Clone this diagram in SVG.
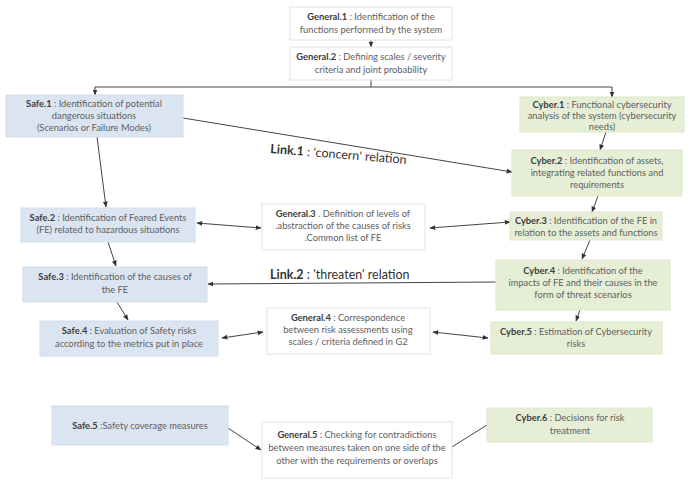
<svg xmlns="http://www.w3.org/2000/svg" width="691" height="482" viewBox="0 0 691 482">
<defs>
<marker id="ah" viewBox="0 0 10 10" refX="9" refY="5" markerWidth="6" markerHeight="6" markerUnits="userSpaceOnUse" orient="auto-start-reverse">
<path d="M0,1 L10,5 L0,9 z" fill="#333"/>
</marker>
<style>
.gen{fill:#ffffff;stroke:#e2e2e2;stroke-width:1}
.safe{fill:#dbe5f1;stroke:#d3deec;stroke-width:1}
.cyb{fill:#e6efd6;stroke:#dde8c9;stroke-width:1}
text{font-family:Lato,"Open Sans","Liberation Sans",sans-serif;font-size:9.3px;fill:#5e5e5e;text-anchor:middle}
.b{font-weight:bold;fill:#3c3c3c}
.lk{font-size:12.5px;text-anchor:start;fill:#333}
.c{fill:none;stroke:#444;stroke-width:1}
</style>
</defs>
<rect width="691" height="482" fill="#ffffff"/>

<g id="connectors">
<path class="c" d="M371,40 V47" marker-end="url(#ah)"/>
<path class="c" d="M371,80 V87 H95 V95" marker-end="url(#ah)"/>
<path class="c" d="M371,87 H612 V97" marker-end="url(#ah)"/>
<path class="c" d="M97,137 L106,207" marker-end="url(#ah)"/>
<path class="c" d="M108,242 L116,266" marker-end="url(#ah)"/>
<path class="c" d="M117,302 L128,320" marker-end="url(#ah)"/>
<path class="c" d="M183,118 L512,172" marker-end="url(#ah)"/>
<path class="c" d="M606,132 L600,150" marker-end="url(#ah)"/>
<path class="c" d="M598,196 L592,212" marker-end="url(#ah)"/>
<path class="c" d="M590,240 L582,259" marker-end="url(#ah)"/>
<path class="c" d="M580,310 L576,321" marker-end="url(#ah)"/>
<path class="c" d="M197,223 L261,228" marker-start="url(#ah)" marker-end="url(#ah)"/>
<path class="c" d="M430,228 L510,222" marker-start="url(#ah)" marker-end="url(#ah)"/>
<path class="c" d="M496,282 L208,284" marker-end="url(#ah)"/>
<path class="c" d="M222,338 L263,332" marker-start="url(#ah)" marker-end="url(#ah)"/>
<path class="c" d="M433,332 L488,338" marker-start="url(#ah)" marker-end="url(#ah)"/>
<path class="c" d="M228,428 L261,450" marker-end="url(#ah)"/>
<path class="c" d="M487,425 L447,450" marker-end="url(#ah)"/>
<text class="lk" transform="translate(270,153) rotate(4.6)"><tspan font-weight="bold">Link.1</tspan> : 'concern' relation</text>
<text class="lk" x="270" y="279"><tspan font-weight="bold">Link.2</tspan> : 'threaten' relation</text>
</g>

<g id="general1">
<rect class="gen" x="290" y="7" width="162" height="33"/>
<text x="371" y="20"><tspan class="b">General.1</tspan> : Identification of the</text>
<text x="371" y="33">functions performed by the system</text>
</g>
<g id="general2">
<rect class="gen" x="290" y="47" width="162" height="33"/>
<text x="371" y="60"><tspan class="b">General.2</tspan> : Defining scales / severity</text>
<text x="371" y="73">criteria and joint probability</text>
</g>
<g id="safe1">
<rect class="safe" x="6" y="95" width="177" height="42"/>
<text x="94" y="107"><tspan class="b">Safe.1</tspan> : Identification of potential</text>
<text x="94" y="119">dangerous situations</text>
<text x="94" y="131">(Scenarios or Failure Modes)</text>
</g>
<g id="cyber1">
<rect class="cyb" x="520" y="97" width="164" height="35"/>
<text x="602" y="108"><tspan class="b">Cyber.1</tspan> : Functional cybersecurity</text>
<text x="602" y="119">analysis of the system (cybersecurity</text>
<text x="602" y="130">needs)</text>
</g>
<g id="cyber2">
<rect class="cyb" x="512" y="150" width="170" height="46"/>
<text x="597" y="164"><tspan class="b">Cyber.2</tspan> : Identification of assets,</text>
<text x="597" y="176">integrating related functions and</text>
<text x="597" y="188">requirements</text>
</g>
<g id="safe2">
<rect class="safe" x="21" y="208" width="174" height="34"/>
<text x="108" y="221"><tspan class="b">Safe.2</tspan> : Identification of Feared Events</text>
<text x="108" y="233">(FE) related to hazardous situations</text>
</g>
<g id="general3">
<rect class="gen" x="262" y="204" width="163" height="46"/>
<text x="343" y="217"><tspan class="b">General.3</tspan> . Definition of levels of</text>
<text x="343" y="229">.abstraction of the causes of risks</text>
<text x="343" y="241">.Common list of FE</text>
</g>
<g id="cyber3">
<rect class="cyb" x="510" y="212" width="152" height="28"/>
<text x="586" y="224"><tspan class="b">Cyber.3</tspan> : Identification of the FE in</text>
<text x="586" y="236">relation to the assets and functions</text>
</g>
<g id="safe3">
<rect class="safe" x="23" y="267" width="184" height="35"/>
<text x="115" y="280"><tspan class="b">Safe.3</tspan> : Identification of the causes of</text>
<text x="115" y="293">the FE</text>
</g>
<g id="cyber4">
<rect class="cyb" x="496" y="260" width="174" height="50"/>
<text x="583" y="274"><tspan class="b">Cyber.4</tspan> : Identification of the</text>
<text x="583" y="286">impacts of FE and their causes in the</text>
<text x="583" y="298">form of threat scenarios</text>
</g>
<g id="safe4">
<rect class="safe" x="40" y="321" width="178" height="35"/>
<text x="129" y="334"><tspan class="b">Safe.4</tspan> : Evaluation of Safety risks</text>
<text x="129" y="347">according to the metrics put in place</text>
</g>
<g id="general4">
<rect class="gen" x="267" y="308" width="163" height="46"/>
<text x="348" y="321"><tspan class="b">General.4</tspan> : Correspondence</text>
<text x="348" y="333">between risk assessments using</text>
<text x="348" y="345">scales / criteria defined in G2</text>
</g>
<g id="cyber5">
<rect class="cyb" x="491" y="322" width="171" height="32"/>
<text x="576" y="335"><tspan class="b">Cyber.5</tspan> : Estimation of Cybersecurity</text>
<text x="576" y="347">risks</text>
</g>
<g id="safe5">
<rect class="safe" x="52" y="406" width="176" height="39"/>
<text x="140" y="429"><tspan class="b">Safe.5</tspan> :Safety coverage measures</text>
</g>
<g id="general5">
<rect class="gen" x="262" y="422" width="190" height="56"/>
<text x="357" y="438"><tspan class="b">General.5</tspan> : Checking for contradictions</text>
<text x="357" y="451">between measures taken on one side of the</text>
<text x="357" y="464">other with the requirements or overlaps</text>
</g>
<g id="cyber6">
<rect class="cyb" x="487" y="408" width="165" height="34"/>
<text x="570" y="421"><tspan class="b">Cyber.6</tspan> : Decisions for risk</text>
<text x="570" y="434">treatment</text>
</g>
</svg>
